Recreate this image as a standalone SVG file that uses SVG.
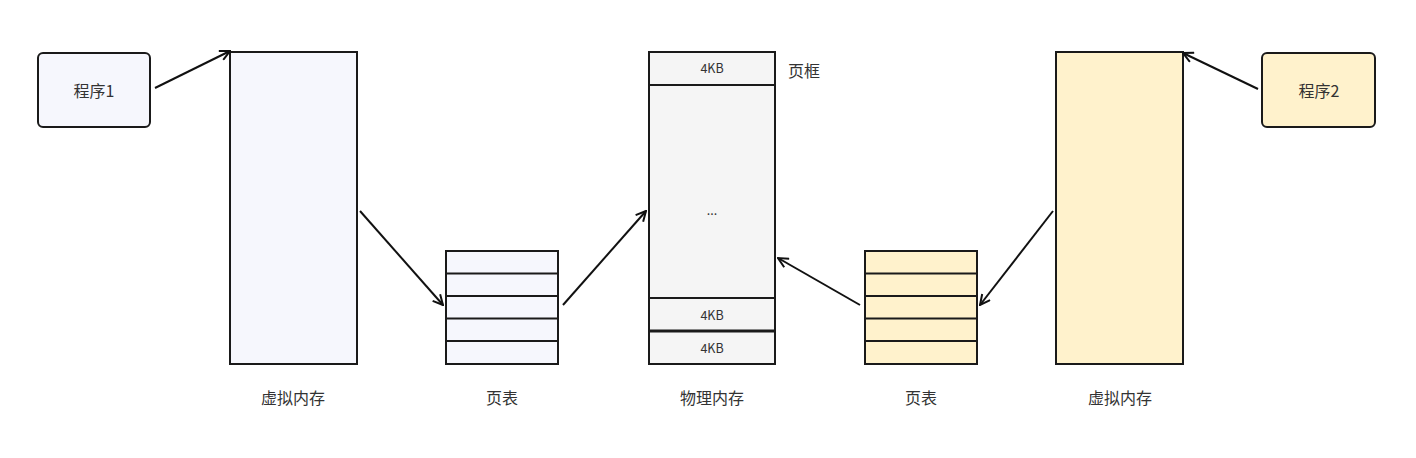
<svg xmlns="http://www.w3.org/2000/svg" width="1416" height="458" viewBox="0 0 1416 458">
<style>
.box{stroke:#1a1a1a;stroke-width:2}
.blue{fill:#f6f7fd}
.yel{fill:#fff2cc}
.gray{fill:#f5f5f5}
.ln{stroke:#1a1a1a;stroke-width:2;fill:none}
.t{font-family:"Noto Sans CJK SC","Noto Sans",sans-serif;fill:#333;text-anchor:middle}
.lab{font-size:16px}
.sm{font-size:12.5px}
.c{stroke:#111;stroke-width:2;fill:none;marker-end:url(#ah)}
</style>
<defs>
<marker id="ah" viewBox="0 0 12 12" refX="11" refY="6" markerWidth="12" markerHeight="12" markerUnits="userSpaceOnUse" orient="auto">
<path d="M1,1 L11,6 L1,11" fill="none" stroke="#111" stroke-width="2"/>
</marker>
</defs>
<rect width="1416" height="458" fill="#ffffff"/>
<g id="prog1">
<rect class="box blue" x="38" y="53" width="112" height="74" rx="5"/>
<text class="t lab" x="94" y="97">程序1</text>
</g>
<g id="vmem1">
<rect class="box blue" x="230" y="52" width="127" height="312"/>
<text class="t lab" x="293" y="404">虚拟内存</text>
</g>
<g id="ptable1">
<rect class="box blue" x="446" y="251" width="112" height="113"/>
<path class="ln" d="M446,273.5H558M446,296H558M446,318.5H558M446,341H558"/>
<text class="t lab" x="502" y="404">页表</text>
</g>
<g id="pmem">
<rect class="box gray" x="649" y="52" width="126" height="312"/>
<path class="ln" d="M649,85H775M649,298H775"/>
<path d="M649,331H775" stroke="#1a1a1a" stroke-width="3"/>
<text class="t sm" x="712" y="73">4KB</text>
<text class="t sm" x="712" y="215">...</text>
<text class="t sm" x="712" y="320">4KB</text>
<text class="t sm" x="712" y="353">4KB</text>
<text class="t lab" x="712" y="404">物理内存</text>
</g>
<g id="frameLabel">
<text class="t lab" x="804" y="77">页框</text>
</g>
<g id="ptable2">
<rect class="box yel" x="865" y="251" width="112" height="113"/>
<path class="ln" d="M865,273.5H977M865,296H977M865,318.5H977M865,341H977"/>
<text class="t lab" x="921" y="404">页表</text>
</g>
<g id="vmem2">
<rect class="box yel" x="1056" y="52" width="127" height="312"/>
<text class="t lab" x="1120" y="404">虚拟内存</text>
</g>
<g id="prog2">
<rect class="box yel" x="1262" y="53" width="113" height="74" rx="5"/>
<text class="t lab" x="1319" y="97">程序2</text>
</g>
<g id="connectors">
<path class="c" d="M155,88L230,51"/>
<path class="c" d="M360,211L443,305"/>
<path class="c" d="M563,305L646,211"/>
<path class="c" d="M860,305L778,258"/>
<path class="c" d="M1053,211L980,305"/>
<path class="c" d="M1258,89L1183,53"/>
</g>
</svg>
